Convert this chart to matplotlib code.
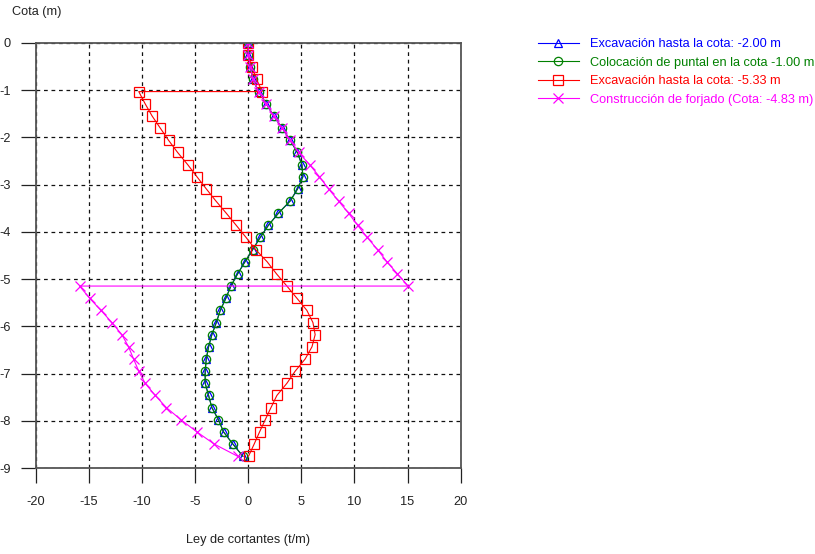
import matplotlib
matplotlib.use("Agg")
import matplotlib.pyplot as plt

plt.rcParams['font.family'] = ['Liberation Sans', 'DejaVu Sans']
plt.rcParams['axes.unicode_minus'] = False

# Depth nodes (m)
depth = [0.0, -0.257, -0.515, -0.772, -1.029, -1.287, -1.544, -1.801, -2.059, -2.316,
         -2.574, -2.831, -3.088, -3.346, -3.603, -3.860, -4.118, -4.375, -4.632, -4.890,
         -5.147, -5.404, -5.662, -5.919, -6.176, -6.434, -6.691, -6.949, -7.206, -7.463,
         -7.721, -7.978, -8.235, -8.493, -8.750]

# Series 1: Excavación hasta la cota -2.00 m
shear_exc1 = [0, 0, 0.2, 0.45, 0.97, 1.7, 2.4, 3.2, 3.95, 4.62,
              5.05, 5.15, 4.65, 3.95, 2.85, 1.9, 1.13, 0.42, -0.3, -1.0,
              -1.63, -2.1, -2.63, -3.0, -3.42, -3.73, -3.95, -4.05, -4.05, -3.73,
              -3.42, -2.8, -2.32, -1.44, -0.5]

# Series 2: Colocación de puntal -1.00 m
shear_strut = [0, 0, 0.2, 0.45, 0.97, 1.7, 2.4, 3.2, 3.95, 4.62,
               5.05, 5.15, 4.65, 3.95, 2.85, 1.9, 1.13, 0.42, -0.3, -1.0,
               -1.63, -2.1, -2.63, -3.0, -3.42, -3.73, -3.95, -4.05, -4.05, -3.73,
               -3.42, -2.8, -2.32, -1.44, -0.5]

# Series 3: Excavación hasta la cota -5.33 m (jump at strut node)
depth_exc2 = depth[:5] + depth[4:]
shear_exc2 = [0, 0, 0.35, 0.8, 1.3,
              -10.3, -9.7, -9.05, -8.28, -7.5,
              -6.65, -5.7, -4.83, -3.95, -3.04,
              -2.07, -1.13, -0.2, 0.7, 1.78,
              2.67, 3.64, 4.58, 5.52, 6.09,
              6.3, 6.0, 5.36, 4.42, 3.64,
              2.7, 2.14, 1.6, 1.07, 0.56,
              0.03]

# Series 4: Construcción de forjado (jump at slab node)
depth_slab = depth[:21] + depth[20:]
shear_slab = [0, 0, 0.2, 0.45, 0.97, 1.7, 2.4, 3.2, 3.95,
              4.74, 5.77, 6.7, 7.56, 8.5, 9.44, 10.3, 11.2, 12.17, 13.05, 14.05, 15.05,
              -15.87, -14.93, -13.86, -12.83, -11.89, -11.26, -10.79, -10.3, -9.7,
              -8.75, -7.7, -6.33, -4.83, -3.2, -1.0]

labels = ["Excavación hasta la cota: -2.00 m",
          "Colocación de puntal en la cota -1.00 m",
          "Excavación hasta la cota: -5.33 m",
          "Construcción de forjado (Cota: -4.83 m)"]
colors = ["#0000FF", "#008000", "#FF0000", "#FF00FF"]

xticks = [-20, -15, -10, -5, 0, 5, 10, 15, 20]
yticks = [0, -1, -2, -3, -4, -5, -6, -7, -8, -9]

FS = 9.2

fig = plt.figure(figsize=(8.15, 5.54), dpi=100)
ax = fig.add_axes([0.0438, 0.1552, 0.5215, 0.7672])

lw = 0.8
ax.plot(shear_exc1, depth, color=colors[0], lw=lw, marker='^', ms=6,
        mfc='none', mec=colors[0], mew=0.9, label=labels[0])
ax.plot(shear_strut, depth, color=colors[1], lw=lw, marker='o', ms=6,
        mfc='none', mec=colors[1], mew=0.9, label=labels[1])
ax.plot(shear_exc2, depth_exc2, color=colors[2], lw=lw, marker='s', ms=7.8,
        mfc='none', mec=colors[2], mew=0.9, label=labels[2])
ax.plot(shear_slab, depth_slab, color=colors[3], lw=lw, marker='x', ms=7,
        mec=colors[3], mew=0.9, label=labels[3])

ax.set_xlim(-20, 20)
ax.set_ylim(-9, 0)
ax.set_xticks(xticks)
ax.set_yticks(yticks)
ax.set_xticklabels([str(t) for t in xticks])
ax.set_yticklabels([str(t) for t in yticks])
ax.grid(True, color='#111111', linestyle=(0, (3, 3)), linewidth=0.9)
ax.tick_params(direction='out', length=11, width=0.9, colors='#222222',
               labelsize=FS, labelcolor='#222222')
ax.tick_params(axis='x', pad=9)
ax.tick_params(axis='y', pad=7)
for s in ax.spines.values():
    s.set_color('#555555')
    s.set_linewidth(1.3)

fig.text(12 / 815, 1 - 12 / 554, "Cota (m)", fontsize=FS, color='#222222',
         ha='left', va='center')
fig.text(248 / 815, 1 - 540 / 554, "Ley de cortantes (t/m)", fontsize=FS,
         color='#222222', ha='center', va='center')

leg = fig.legend(loc='upper left', bbox_to_anchor=(538 / 815, 1 - 38 / 554),
                 frameon=False, fontsize=FS, handlelength=3.2, handletextpad=0.85,
                 labelspacing=0.52, borderpad=0, borderaxespad=0)
for txt, c in zip(leg.get_texts(), colors):
    txt.set_color(c)

fig.savefig("out.png", dpi=100)
